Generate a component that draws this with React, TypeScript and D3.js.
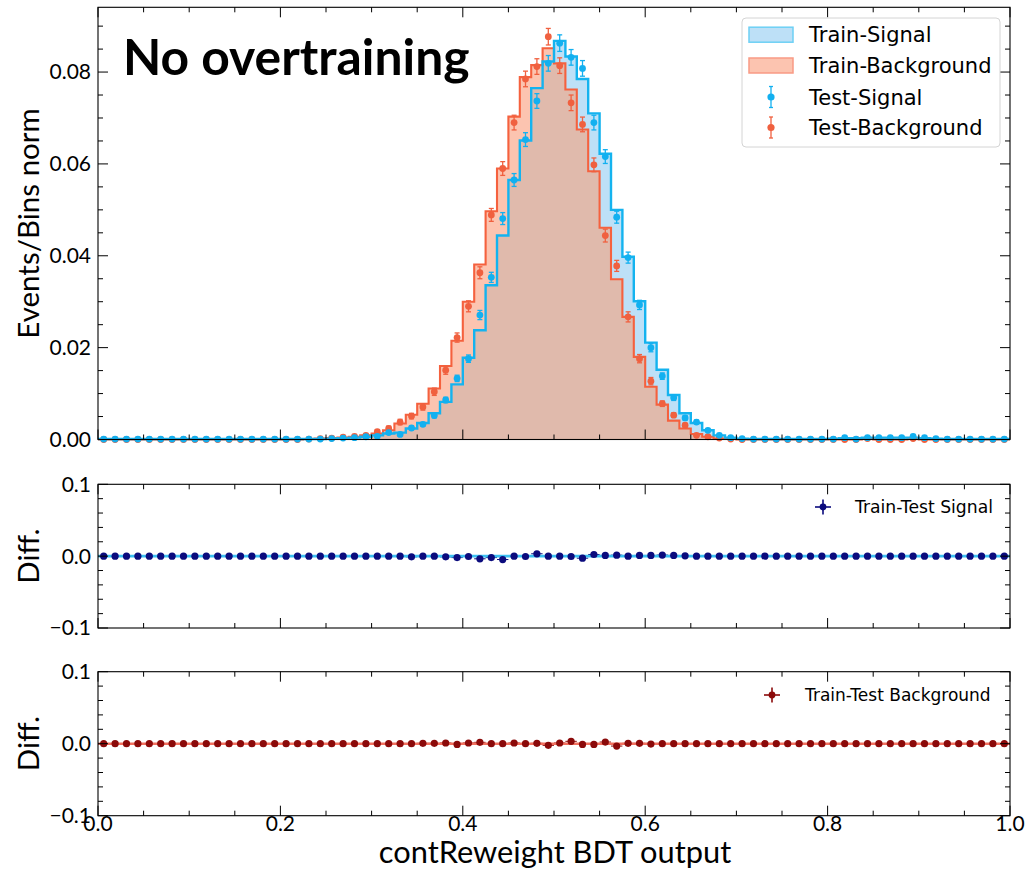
import React from "react";
import * as d3 from "d3";

// ---------------- data (80 bins on [0,1]) ----------------
const NBINS = 80;

const trainSignal = [
  0.0001, 0.0001, 0.0001, 0.0001, 0.0001, 0.0001, 0.0001, 0.0001, 0.0001, 0.0001,
  0.0001, 0.0001, 0.0001, 0.0001, 0.0001, 0.0001, 0.0001, 0.0001, 0.0001, 0.0001,
  0.0002, 0.0003, 0.0004, 0.0006, 0.0009, 0.0013, 0.0015, 0.0024, 0.0036, 0.0057,
  0.0082, 0.0120, 0.0178, 0.0238, 0.0336, 0.0444, 0.0565, 0.0651, 0.0765, 0.0823,
  0.0868, 0.0834, 0.0785, 0.0710, 0.0622, 0.0500, 0.0398, 0.0301, 0.0211, 0.0152,
  0.0097, 0.0057, 0.0036, 0.0020, 0.0009, 0.0004, 0.0002, 0.0001, 0.0001, 0.0001,
  0.0001, 0.0001, 0.0001, 0.0001, 0.0002, 0.0003, 0.0003, 0.0004, 0.0004, 0.0004,
  0.0004, 0.0004, 0.0003, 0.0002, 0.0001, 0.0001, 0.0001, 0.0001, 0.0001, 0.0001,
];

const trainBackground = [
  0, 0, 0, 0, 0, 0, 0, 0, 0, 0,
  0, 0, 0, 0, 0, 0, 0, 0, 0.0001, 0.0002,
  0.0003, 0.0004, 0.0006, 0.0009, 0.0013, 0.0020, 0.0035, 0.0054, 0.0078, 0.0111,
  0.0160, 0.0215, 0.0300, 0.0381, 0.0497, 0.0590, 0.0703, 0.0789, 0.0815, 0.0852,
  0.0819, 0.0762, 0.0675, 0.0584, 0.0461, 0.0349, 0.0267, 0.0180, 0.0115, 0.0076,
  0.0041, 0.0024, 0.0012, 0.0006, 0.0002, 0.0001, 0, 0, 0, 0,
  0, 0, 0, 0, 0, 0, 0, 0.0001, 0, 0,
  0, 0.0001, 0, 0, 0, 0, 0, 0, 0, 0,
];

const testSignal = [
  0.0001, 0.0001, 0.0001, 0.0001, 0.0001, 0.0001, 0.0001, 0.0001, 0.0001, 0.0001,
  0.0001, 0.0001, 0.0001, 0.0001, 0.0001, 0.0001, 0.0001, 0.0001, 0.0001, 0.0001,
  0.0002, 0.0003, 0.0004, 0.0006, 0.0007, 0.0015, 0.0011, 0.0025, 0.0033, 0.0052,
  0.0086, 0.0133, 0.0176, 0.0271, 0.0353, 0.0481, 0.0565, 0.0653, 0.0737, 0.0819,
  0.0863, 0.0832, 0.0808, 0.0690, 0.0616, 0.0484, 0.0396, 0.0293, 0.0200, 0.0138,
  0.0091, 0.0047, 0.0038, 0.0020, 0.0009, 0.0004, 0.0002, 0.0001, 0.0001, 0.0001,
  0.0001, 0.0001, 0.0001, 0.0001, 0.0001, 0.0004, 0.0001, 0.0004, 0.0004, 0.0004,
  0.0004, 0.0007, 0.0004, 0.0002, 0.0001, 0.0001, 0.0001, 0.0001, 0.0001, 0.0001,
];

const testBackground = [
  0, 0, 0, 0, 0, 0, 0, 0, 0, 0,
  0, 0, 0, 0, 0, 0, 0, 0, 0.0001, 0.0002,
  0.0003, 0.0005, 0.0007, 0.0009, 0.0017, 0.0024, 0.0038, 0.0051, 0.0071, 0.0104,
  0.0151, 0.0222, 0.0290, 0.0363, 0.0489, 0.0590, 0.0690, 0.0785, 0.0812, 0.0877,
  0.0814, 0.0733, 0.0686, 0.0598, 0.0444, 0.0378, 0.0267, 0.0176, 0.0127, 0.0078,
  0.0053, 0.0031, 0.0009, 0.0006, 0.0003, 0.0001, 0, 0, 0, 0,
  0, 0, 0, 0, 0, 0, 0, 0.0002, 0, 0,
  0, 0.0002, 0, 0, 0, 0, 0, 0, 0, 0,
];

const testSignalErr = [
  0.0001, 0.0001, 0.0001, 0.0001, 0.0001, 0.0001, 0.0001, 0.0001, 0.0001, 0.0001,
  0.0001, 0.0001, 0.0001, 0.0001, 0.0001, 0.0001, 0.0001, 0.0001, 0.0001, 0.0001,
  0.0001, 0.0001, 0.0001, 0.0002, 0.0002, 0.0003, 0.0003, 0.0004, 0.0004, 0.0005,
  0.0006, 0.0007, 0.0008, 0.0010, 0.0011, 0.0013, 0.0014, 0.0015, 0.0016, 0.0017,
  0.0018, 0.0017, 0.0017, 0.0016, 0.0015, 0.0013, 0.0012, 0.0010, 0.0009, 0.0007,
  0.0006, 0.0005, 0.0004, 0.0003, 0.0002, 0.0002, 0.0001, 0.0001, 0.0001, 0.0001,
  0.0001, 0.0001, 0.0001, 0.0001, 0.0001, 0.0001, 0.0001, 0.0001, 0.0001, 0.0001,
  0.0001, 0.0001, 0.0001, 0.0001, 0.0001, 0.0001, 0.0001, 0.0001, 0.0001, 0.0001,
];

const testBackgroundErr = [
  0.0001, 0.0001, 0.0001, 0.0001, 0.0001, 0.0001, 0.0001, 0.0001, 0.0001, 0.0001,
  0.0001, 0.0001, 0.0001, 0.0001, 0.0001, 0.0001, 0.0001, 0.0001, 0.0001, 0.0001,
  0.0002, 0.0002, 0.0003, 0.0003, 0.0004, 0.0005, 0.0006, 0.0006, 0.0007, 0.0008,
  0.0009, 0.0010, 0.0012, 0.0013, 0.0014, 0.0015, 0.0016, 0.0017, 0.0017, 0.0018,
  0.0017, 0.0017, 0.0016, 0.0015, 0.0014, 0.0012, 0.0011, 0.0009, 0.0008, 0.0006,
  0.0005, 0.0004, 0.0003, 0.0002, 0.0002, 0.0001, 0.0001, 0.0001, 0.0001, 0.0001,
  0.0001, 0.0001, 0.0001, 0.0001, 0.0001, 0.0001, 0.0001, 0.0001, 0.0001, 0.0001,
  0.0001, 0.0001, 0.0001, 0.0001, 0.0001, 0.0001, 0.0001, 0.0001, 0.0001, 0.0001,
];

// Train - Test differences
const diffSignal = [
  0, 0, 0, 0, 0, 0, 0, 0, 0, 0,
  0, 0, 0, 0, 0, 0, 0, 0, 0, 0,
  0, 0, 0, 0, 0, 0, 0, -0.001, 0, 0,
  -0.001, -0.002, -0.0005, -0.0037, -0.002, -0.0047, 0, -0.0005, 0.0033, 0,
  0, -0.0005, -0.0028, 0.0023, 0.001, 0.0014, 0, 0.001, 0.001, 0.0015,
  0.001, 0.0005, 0, 0, 0, 0, 0, 0, 0, 0,
  0, 0, 0, 0, 0, 0, 0, 0, 0, 0,
  0, 0, 0, 0, 0, 0, 0, 0, 0, 0,
];

const diffBackground = [
  0, 0, 0, 0, 0, 0, 0, 0, 0, 0,
  0, 0, 0, 0, 0, 0, 0, 0, 0, 0,
  0, 0, 0, 0, 0, 0, 0, 0, 0.0005, 0.0005,
  0.001, -0.001, 0.001, 0.0019, 0, 0, 0.001, 0, 0.0005, -0.0023,
  0.001, 0.0033, -0.001, -0.001, 0.0023, -0.0033, 0.0005, 0.0005, -0.0005, 0,
  0, 0, 0, 0, 0, 0, 0, 0, 0, 0,
  0, 0, 0, 0, 0, 0, 0, 0, 0, 0,
  0, 0, 0, 0, 0, 0, 0, 0, 0, 0,
];

const xTickLabels = [0, 0.2, 0.4, 0.6, 0.8, 1.0];
const yTopTickLabels = [0, 0.02, 0.04, 0.06, 0.08];
const yDiffTickLabels = [-0.1, 0, 0.1];

const titleText = "No overtraining";
const xLabel = "contReweight BDT output";
const yLabelTop = "Events/Bins norm";
const yLabelDiff = "Diff.";
const legendTop = ["Train-Signal", "Train-Background", "Test-Signal", "Test-Background"];
const legendSig = "Train-Test Signal";
const legendBkg = "Train-Test Background";

// ---------------- style ----------------
const C = {
  sigLine: "#14b3ef",
  bkgLine: "#f5613e",
  sigFill: "#bde0f7",
  bkgFill: "#fcc4b0",
  overlapFill: "#e0baac",
  sigPt: "#12b0f0",
  bkgPt: "#f0603f",
  sigPatchEdge: "#6dd0f5",
  bkgPatchEdge: "#f99a85",
  diffSigPt: "#0b0b7d",
  diffBkgPt: "#8b0a0a",
  diffSigLine: "#3cc0f2",
  diffBkgLine: "#f2705f",
};
const AX_FONT = "Lato, 'Open Sans', sans-serif";
const LEG_FONT = "'DejaVu Sans', Verdana, sans-serif";

const X0 = 98, X1 = 1010;
const TOP = { top: 7.3, bottom: 439.5 };
const SIG = { top: 484.3, bottom: 628 };
const BKG = { top: 671.7, bottom: 815.7 };

type Scale = d3.ScaleLinear<number, number>;

function Frame({ x, y, box, yMinorCount, majorStep }: { x: Scale; y: Scale; box: { top: number; bottom: number }; yMinorCount: number; majorStep: number }) {
  const xMajor = xTickLabels;
  const xMinor = x.ticks(20).filter((t) => !xMajor.some((m) => Math.abs(m - t) < 1e-9));
  const yd = y.domain();
  const yAll = d3.ticks(yd[0], yd[1], yMinorCount);
  const lines: JSX.Element[] = [];
  let k = 0;
  const push = (x1: number, y1: number, x2: number, y2: number) =>
    lines.push(<line key={k++} x1={x1} y1={y1} x2={x2} y2={y2} stroke="#000" strokeWidth={1} />);
  xMajor.forEach((t) => {
    push(x(t), box.bottom, x(t), box.bottom - 10);
    push(x(t), box.top, x(t), box.top + 10);
  });
  xMinor.forEach((t) => {
    push(x(t), box.bottom, x(t), box.bottom - 5);
    push(x(t), box.top, x(t), box.top + 5);
  });
  yAll.forEach((t) => {
    const yy = y(t);
    if (yy < box.top - 0.5 || yy > box.bottom + 0.5) return;
    const r = t / majorStep;
    const major = Math.abs(r - Math.round(r)) < 1e-6;
    const len = major ? 10 : 5;
    push(X0, yy, X0 + len, yy);
    push(X1, yy, X1 - len, yy);
  });
  return (
    <g>
      {lines}
      <rect x={X0} y={box.top} width={X1 - X0} height={box.bottom - box.top} fill="none" stroke="#000" strokeWidth={1.1} />
    </g>
  );
}

export default function App() {
  const x = d3.scaleLinear().domain([0, 1]).range([X0, X1]);
  const yTop = d3.scaleLinear().domain([0, 0.0941]).range([TOP.bottom, TOP.top]);
  const ySig = d3.scaleLinear().domain([-0.1, 0.1]).range([SIG.bottom, SIG.top]);
  const yBkg = d3.scaleLinear().domain([-0.1, 0.1]).range([BKG.bottom, BKG.top]);

  const edges = d3.range(NBINS + 1).map((i) => i / NBINS);
  const centers = d3.range(NBINS).map((i) => (i + 0.5) / NBINS);
  const overlap = trainSignal.map((v, i) => Math.min(v, trainBackground[i]));

  const stepData = (vals: number[]): [number, number][] => [
    ...vals.map((v, i) => [edges[i], v] as [number, number]),
    [1, vals[NBINS - 1]],
  ];
  const area = d3
    .area<[number, number]>()
    .x((d) => x(d[0]))
    .y0(yTop(0))
    .y1((d) => yTop(d[1]))
    .curve(d3.curveStepAfter);
  const line = d3
    .line<[number, number]>()
    .x((d) => x(d[0]))
    .y((d) => yTop(d[1]))
    .curve(d3.curveStepAfter);

  const errPoints = (vals: number[], errs: number[], col: string, key: string) =>
    vals.map((v, i) => {
      const cx = x(centers[i]);
      const yHi = yTop(v + errs[i]);
      const yLo = yTop(Math.max(0, v - errs[i]));
      return (
        <g key={key + i}>
          <line x1={cx} x2={cx} y1={yHi} y2={yLo} stroke={col} strokeWidth={1.3} />
          <line x1={cx - 2.5} x2={cx + 2.5} y1={yHi} y2={yHi} stroke={col} strokeWidth={1.3} />
          <line x1={cx - 2.5} x2={cx + 2.5} y1={yLo} y2={yLo} stroke={col} strokeWidth={1.3} />
          <circle cx={cx} cy={yTop(v)} r={3.4} fill={col} />
        </g>
      );
    });

  const diffPoints = (vals: number[], errs: number[], ys: Scale, col: string, key: string) =>
    vals.map((v, i) => (
      <g key={key + i}>
        <line x1={x(edges[i])} x2={x(edges[i + 1])} y1={ys(v)} y2={ys(v)} stroke={col} strokeWidth={1} />
        <line x1={x(centers[i])} x2={x(centers[i])} y1={ys(v + errs[i])} y2={ys(v - errs[i])} stroke={col} strokeWidth={1.2} />
      </g>
    ));
  const diffDots = (vals: number[], ys: Scale, col: string, key: string) =>
    vals.map((v, i) => <circle key={key + i} cx={x(centers[i])} cy={ys(v)} r={3.6} fill={col} />);

  const fmt2 = d3.format(".2f");
  const fmt1 = d3.format(".1f");

  const legX = 742, legY = 18;
  const rowY = [34.7, 65.5, 97, 127.5];

  return (
    <svg
      width={1028}
      height={871}
      viewBox="0 0 1028 871"
      style={{ position: "absolute", left: 0, top: 0, display: "block", background: "#fff" }}
    >
      <rect x={0} y={0} width={1028} height={871} fill="#fff" />

      {/* ---------- top panel ---------- */}
      <path d={area(stepData(trainSignal)) || ""} fill={C.sigFill} />
      <path d={area(stepData(trainBackground)) || ""} fill={C.bkgFill} />
      <path d={area(stepData(overlap)) || ""} fill={C.overlapFill} />
      <path d={line(stepData(trainBackground)) || ""} fill="none" stroke={C.bkgLine} strokeWidth={2.1} />
      <path d={line(stepData(trainSignal)) || ""} fill="none" stroke={C.sigLine} strokeWidth={2.4} />
      {errPoints(testBackground, testBackgroundErr, C.bkgPt, "tb")}
      {errPoints(testSignal, testSignalErr, C.sigPt, "ts")}

      <Frame x={x} y={yTop} box={TOP} yMinorCount={20} majorStep={0.02} />
      {yTopTickLabels.map((t) => (
        <text key={"yt" + t} x={91} y={yTop(t)} dy="0.35em" textAnchor="end" fontFamily={AX_FONT} fontSize={21}>
          {fmt2(t)}
        </text>
      ))}
      <text x={123} y={75} fontFamily={AX_FONT} fontWeight="bold" fontSize={49.8}>
        {titleText}
      </text>
      <text
        transform={`translate(39,${(TOP.top + TOP.bottom) / 2}) rotate(-90)`}
        textAnchor="middle"
        fontFamily={AX_FONT}
        fontSize={29.5}
      >
        {yLabelTop}
      </text>

      {/* legend top */}
      <rect x={legX} y={legY} width={258} height={129} rx={4} fill="#fff" fillOpacity={0.85} stroke="#d4d4d4" strokeWidth={1} />
      <rect x={749} y={rowY[0] - 7.5} width={44} height={15} fill={C.sigFill} stroke={C.sigPatchEdge} strokeWidth={1.5} />
      <rect x={749} y={rowY[1] - 7.5} width={44} height={15} fill={C.bkgFill} stroke={C.bkgPatchEdge} strokeWidth={1.5} />
      {[C.sigPt, C.bkgPt].map((col, j) => {
        const cy = rowY[2 + j];
        return (
          <g key={"lm" + j}>
            <line x1={771} x2={771} y1={cy - 10.5} y2={cy + 10.5} stroke={col} strokeWidth={1.3} />
            <line x1={769} x2={773} y1={cy - 10.5} y2={cy - 10.5} stroke={col} strokeWidth={1.3} />
            <line x1={769} x2={773} y1={cy + 10.5} y2={cy + 10.5} stroke={col} strokeWidth={1.3} />
            <circle cx={771} cy={cy} r={3.6} fill={col} />
          </g>
        );
      })}
      {legendTop.map((s, j) => (
        <text key={"lt" + j} x={809} y={rowY[j]} dy="0.36em" fontFamily={LEG_FONT} fontSize={21}>
          {s}
        </text>
      ))}

      {/* ---------- signal diff panel ---------- */}
      {diffPoints(diffSignal, testSignalErr, ySig, C.diffSigPt, "ds")}
      <line x1={X0} x2={X1} y1={ySig(0)} y2={ySig(0)} stroke={C.diffSigLine} strokeWidth={2.6} />
      {diffDots(diffSignal, ySig, C.diffSigPt, "dsd")}
      <Frame x={x} y={ySig} box={SIG} yMinorCount={10} majorStep={0.1} />
      {yDiffTickLabels.map((t) => (
        <text key={"ys" + t} x={91} y={ySig(t)} dy="0.35em" textAnchor="end" fontFamily={AX_FONT} fontSize={21}>
          {fmt1(t)}
        </text>
      ))}
      <text
        transform={`translate(39,${(SIG.top + SIG.bottom) / 2}) rotate(-90)`}
        textAnchor="middle"
        fontFamily={AX_FONT}
        fontSize={29.5}
      >
        {yLabelDiff}
      </text>
      <g>
        <line x1={823} x2={823} y1={499.5} y2={514.5} stroke={C.diffSigPt} strokeWidth={1.6} />
        <line x1={815} x2={831} y1={507} y2={507} stroke={C.diffSigPt} strokeWidth={1.6} />
        <circle cx={823} cy={507} r={3.4} fill={C.diffSigPt} />
        <text x={855} y={507} dy="0.36em" fontFamily={LEG_FONT} fontSize={17.2}>
          {legendSig}
        </text>
      </g>

      {/* ---------- background diff panel ---------- */}
      {diffPoints(diffBackground, testBackgroundErr, yBkg, C.diffBkgPt, "db")}
      <line x1={X0} x2={X1} y1={yBkg(0)} y2={yBkg(0)} stroke={C.diffBkgLine} strokeWidth={2.6} />
      {diffDots(diffBackground, yBkg, C.diffBkgPt, "dbd")}
      <Frame x={x} y={yBkg} box={BKG} yMinorCount={10} majorStep={0.1} />
      {yDiffTickLabels.map((t) => (
        <text key={"yb" + t} x={91} y={yBkg(t)} dy="0.35em" textAnchor="end" fontFamily={AX_FONT} fontSize={21}>
          {fmt1(t)}
        </text>
      ))}
      <text
        transform={`translate(39,${(BKG.top + BKG.bottom) / 2}) rotate(-90)`}
        textAnchor="middle"
        fontFamily={AX_FONT}
        fontSize={29.5}
      >
        {yLabelDiff}
      </text>
      <g>
        <line x1={772} x2={772} y1={687.5} y2={702.5} stroke={C.diffBkgPt} strokeWidth={1.6} />
        <line x1={764} x2={780} y1={695} y2={695} stroke={C.diffBkgPt} strokeWidth={1.6} />
        <circle cx={772} cy={695} r={3.4} fill={C.diffBkgPt} />
        <text x={805} y={695} dy="0.36em" fontFamily={LEG_FONT} fontSize={17}>
          {legendBkg}
        </text>
      </g>

      {/* x tick labels & x label */}
      {xTickLabels.map((t) => (
        <text key={"xt" + t} x={x(t)} y={831} textAnchor="middle" fontFamily={AX_FONT} fontSize={21}>
          {fmt1(t)}
        </text>
      ))}
      <text x={(X0 + X1) / 2 + 1} y={863} textAnchor="middle" fontFamily={AX_FONT} fontSize={30.8}>
        {xLabel}
      </text>
    </svg>
  );
}
